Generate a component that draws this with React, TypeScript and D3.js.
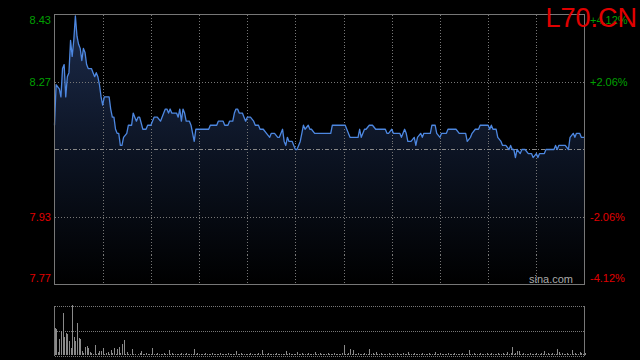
import React from "react";
import * as d3 from "d3";

const symbol = "L70.CN";
const prevClose = 8.1;
const pctTicks = [0.0412, 0.0206, -0.0206, -0.0412];
const totalMinutes = 330;
const gridMinutes = [30, 60, 90, 120, 150, 180, 210, 240, 270, 300];

const priceMinutes = [
  0, 1, 3, 4, 5, 6, 7, 8, 9, 10, 11, 12, 13, 14, 15, 16, 17, 18, 19, 20, 21, 23, 24, 25, 26, 27, 28, 29, 30, 31, 34, 35, 36, 37, 38, 39, 40, 41, 42, 43, 45, 46, 48, 49, 50, 51, 52, 53, 55, 57, 58, 60, 61, 62, 64, 66, 68, 69, 70, 71, 72, 73, 76, 77, 78, 79, 80, 81, 82, 84, 85, 86, 87, 88, 96, 97, 101, 102, 105, 106, 108, 109, 111, 112, 113, 114, 115, 117, 118, 119, 120, 122, 124, 125, 127, 128, 130, 132, 134, 135, 137, 139, 140, 142, 143, 144, 145, 146, 148, 149, 150, 151, 153, 154, 155, 156, 158, 159, 160, 162, 172, 173, 181, 182, 184, 189, 190, 191, 193, 194, 196, 198, 200, 206, 207, 208, 210, 211, 215, 216, 218, 219, 220, 222, 224, 225, 226, 228, 229, 230, 234, 235, 237, 238, 240, 241, 244, 245, 250, 252, 256, 257, 259, 260, 262, 264, 265, 270, 271, 272, 273, 275, 276, 278, 279, 281, 283, 284, 285, 286, 287, 288, 290, 291, 293, 295, 297, 298, 300, 301, 302, 305, 306, 311, 312, 313, 314, 318, 320, 321, 323, 324, 325, 327, 328, 330,
];
const prices = [
  8.16, 8.26, 8.25, 8.23, 8.3, 8.31, 8.23, 8.28, 8.29, 8.37, 8.33, 8.37, 8.43, 8.38, 8.36, 8.35, 8.32, 8.35, 8.34, 8.31, 8.3, 8.3, 8.29, 8.28, 8.29, 8.28, 8.26, 8.23, 8.21, 8.23, 8.23, 8.2, 8.18, 8.18, 8.15, 8.14, 8.14, 8.11, 8.11, 8.13, 8.14, 8.16, 8.16, 8.19, 8.18, 8.17, 8.18, 8.18, 8.15, 8.15, 8.16, 8.16, 8.17, 8.18, 8.18, 8.17, 8.19, 8.2, 8.2, 8.19, 8.2, 8.19, 8.19, 8.18, 8.2, 8.17, 8.2, 8.19, 8.17, 8.17, 8.16, 8.14, 8.12, 8.15, 8.15, 8.16, 8.16, 8.17, 8.17, 8.16, 8.16, 8.17, 8.17, 8.19, 8.2, 8.2, 8.19, 8.19, 8.18, 8.17, 8.18, 8.18, 8.17, 8.16, 8.16, 8.15, 8.15, 8.14, 8.13, 8.14, 8.14, 8.13, 8.13, 8.15, 8.12, 8.11, 8.13, 8.12, 8.12, 8.11, 8.1, 8.1, 8.12, 8.14, 8.16, 8.15, 8.16, 8.15, 8.15, 8.14, 8.14, 8.16, 8.16, 8.15, 8.13, 8.13, 8.15, 8.13, 8.15, 8.15, 8.16, 8.16, 8.15, 8.15, 8.14, 8.14, 8.15, 8.14, 8.14, 8.13, 8.15, 8.14, 8.12, 8.12, 8.13, 8.11, 8.13, 8.14, 8.13, 8.14, 8.14, 8.16, 8.16, 8.14, 8.13, 8.14, 8.14, 8.15, 8.15, 8.14, 8.14, 8.12, 8.13, 8.14, 8.15, 8.15, 8.16, 8.16, 8.15, 8.16, 8.15, 8.15, 8.13, 8.12, 8.11, 8.11, 8.1, 8.11, 8.1, 8.1, 8.08, 8.1, 8.09, 8.1, 8.1, 8.09, 8.09, 8.08, 8.09, 8.08, 8.09, 8.09, 8.1, 8.1, 8.11, 8.1, 8.11, 8.11, 8.1, 8.13, 8.14, 8.13, 8.14, 8.14, 8.13, 8.13,
];

const volumes = [
  27, 26, 3, 16, 24, 42, 18, 22, 21, 14,
  7, 50, 18, 14, 32, 17, 16, 4, 2, 8,
  9, 7, 3, 2, 1, 10, 1, 2, 4, 4,
  7, 1, 2, 3, 1, 5, 2, 7, 1, 6,
  8, 2, 11, 15, 1, 3, 1, 1, 6, 1,
  1, 0, 1, 2, 4, 1, 1, 2, 1, 1,
  1, 7, 1, 1, 2, 1, 1, 1, 2, 1,
  1, 5, 1, 2, 1, 1, 1, 1, 1, 2,
  1, 1, 2, 1, 1, 1, 1, 6, 1, 2,
  1, 1, 1, 1, 2, 1, 1, 1, 2, 1,
  1, 1, 1, 2, 1, 1, 1, 1, 2, 1,
  1, 1, 1, 4, 1, 1, 2, 1, 1, 1,
  1, 1, 2, 1, 1, 1, 1, 2, 1, 5,
  1, 1, 1, 2, 1, 1, 1, 1, 2, 1,
  1, 1, 1, 1, 4, 1, 2, 1, 1, 1,
  1, 3, 1, 1, 2, 1, 1, 1, 2, 1,
  1, 1, 3, 1, 1, 2, 1, 1, 1, 1,
  2, 1, 1, 1, 2, 1, 1, 1, 1, 2,
  10, 1, 1, 2, 6, 1, 5, 1, 1, 2,
  1, 1, 1, 2, 1, 1, 6, 1, 2, 1,
  3, 1, 1, 2, 1, 1, 1, 1, 2, 1,
  1, 1, 1, 2, 1, 1, 1, 2, 1, 1,
  3, 1, 1, 1, 2, 1, 1, 1, 1, 2,
  1, 1, 1, 2, 1, 1, 1, 3, 1, 1,
  2, 1, 1, 1, 1, 2, 1, 1, 1, 2,
  1, 1, 1, 1, 2, 1, 1, 1, 5, 1,
  1, 2, 1, 1, 1, 2, 1, 1, 1, 2,
  1, 1, 2, 1, 1, 1, 2, 1, 1, 2,
  1, 1, 3, 1, 2, 8, 1, 2, 4, 4,
  1, 1, 2, 1, 1, 1, 2, 1, 1, 1,
  2, 1, 1, 2, 1, 4, 1, 2, 1, 1,
  2, 1, 1, 6, 3, 1, 2, 1, 1, 2,
  1, 1, 5, 1, 2, 1, 1, 3, 2, 1, 2,
];

const W = 640;
const H = 360;
const L = 54.5;
const R = 584.5;
const T = 14.5;
const B = 284.5;
const VT = 305.5;
const VB = 355.5;

const font = "'Liberation Sans', Arial, Helvetica, sans-serif";
const gridColor = "#777";
const borderColor = "#777";

export default function App() {
  const x = d3.scaleLinear().domain([0, totalMinutes]).range([L, R]);
  const y = d3
    .scaleLinear()
    .domain([prevClose * (1 - 0.0412), prevClose * (1 + 0.0412)])
    .range([B, T]);
  const vMax = d3.max(volumes) as number;
  const vy = d3.scaleLinear().domain([0, vMax]).range([VB - 0.5, VT - 0.5]);

  const pts: [number, number][] = priceMinutes.map((m, i) => [m, prices[i]]);
  const line = d3
    .line<[number, number]>()
    .x((d) => x(d[0]))
    .y((d) => y(d[1]));
  const area = d3
    .area<[number, number]>()
    .x((d) => x(d[0]))
    .y0(B)
    .y1((d) => y(d[1]));

  const fmt = d3.format(".2f");
  const pfmt = (p: number) => (p > 0 ? "+" : "") + (p * 100).toFixed(2) + "%";
  const labelOffset = (i: number) => (i === 0 ? 9.5 : i === pctTicks.length - 1 ? -2.5 : 4);

  return (
    <svg
      width={W}
      height={H}
      style={{ position: "absolute", left: 0, top: 0, background: "#000" }}
    >
      <defs>
        <linearGradient id="fillGrad" gradientUnits="userSpaceOnUse" x1="0" y1={T} x2="0" y2={B}>
          <stop offset="0%" stopColor="#1c2b4b" />
          <stop offset="55%" stopColor="#0b1220" />
          <stop offset="100%" stopColor="#000000" />
        </linearGradient>
      </defs>
      <rect x={0} y={0} width={W} height={H} fill="#000" />

      {/* area */}
      <path d={area(pts) || ""} fill="url(#fillGrad)" />

      {/* vertical grid */}
      {gridMinutes.map((m) => (
        <line
          key={"vg" + m}
          x1={Math.round(x(m)) + 0.5}
          x2={Math.round(x(m)) + 0.5}
          y1={T}
          y2={B}
          stroke={gridColor}
          strokeDasharray="1,2"
          shapeRendering="crispEdges"
        />
      ))}
      {/* horizontal grid */}
      {[pctTicks[1], pctTicks[2]].map((p) => (
        <line
          key={"hg" + p}
          x1={L}
          x2={R}
          y1={Math.round(y(prevClose * (1 + p))) + 0.5}
          y2={Math.round(y(prevClose * (1 + p))) + 0.5}
          stroke={gridColor}
          strokeDasharray="1,2"
          shapeRendering="crispEdges"
        />
      ))}
      <line
        x1={L}
        x2={R}
        y1={Math.round(y(prevClose)) + 0.5}
        y2={Math.round(y(prevClose)) + 0.5}
        stroke="#888"
        strokeDasharray="4,2,1,2"
        shapeRendering="crispEdges"
      />

      {/* price line */}
      <path d={line(pts) || ""} fill="none" stroke="#4d87e0" strokeWidth={1.3} strokeLinejoin="round" />

      {/* main border */}
      <rect x={L} y={T} width={R - L} height={B - T} fill="none" stroke={borderColor} shapeRendering="crispEdges" />

      {/* labels */}
      {pctTicks.map((p, i) => {
        const v = prevClose * (1 + p);
        const yy = y(v) + labelOffset(i);
        const col = p > 0 ? "#00a000" : "#e00000";
        return (
          <g key={"lab" + i}>
            <text x={51} y={yy} textAnchor="end" fill={col} fontFamily={font} fontSize={11}>
              {fmt(v)}
            </text>
            <text x={590} y={yy} textAnchor="start" fill={col} fontFamily={font} fontSize={11}>
              {pfmt(p)}
            </text>
          </g>
        );
      })}

      <text x={573} y={283} textAnchor="end" fill="#aaa" fontFamily={font} fontSize={11}>
        sina.com
      </text>

      {/* volume panel */}
      {[VT, (VT + VB) / 2, VB].map((yy, i) => (
        <line
          key={"vl" + i}
          x1={L}
          x2={R}
          y1={Math.round(yy) + 0.5}
          y2={Math.round(yy) + 0.5}
          stroke={gridColor}
          strokeDasharray="1,1"
          shapeRendering="crispEdges"
        />
      ))}
      {volumes.map((v, i) =>
        v > 0 ? (
          <rect
            key={"v" + i}
            x={Math.round(x(i))}
            y={vy(v)}
            width={1}
            height={VB - 0.5 - vy(v)}
            fill="#8a8a8a"
            shapeRendering="crispEdges"
          />
        ) : null
      )}
      <line x1={L} x2={L} y1={VT} y2={VB} stroke={borderColor} shapeRendering="crispEdges" />
      <line x1={R} x2={R} y1={VT} y2={VB} stroke={borderColor} shapeRendering="crispEdges" />

      {/* title */}
      <text x={637} y={27} textAnchor="end" fill="#e00000" fontFamily={font} fontSize={27}>
        {symbol}
      </text>
    </svg>
  );
}
